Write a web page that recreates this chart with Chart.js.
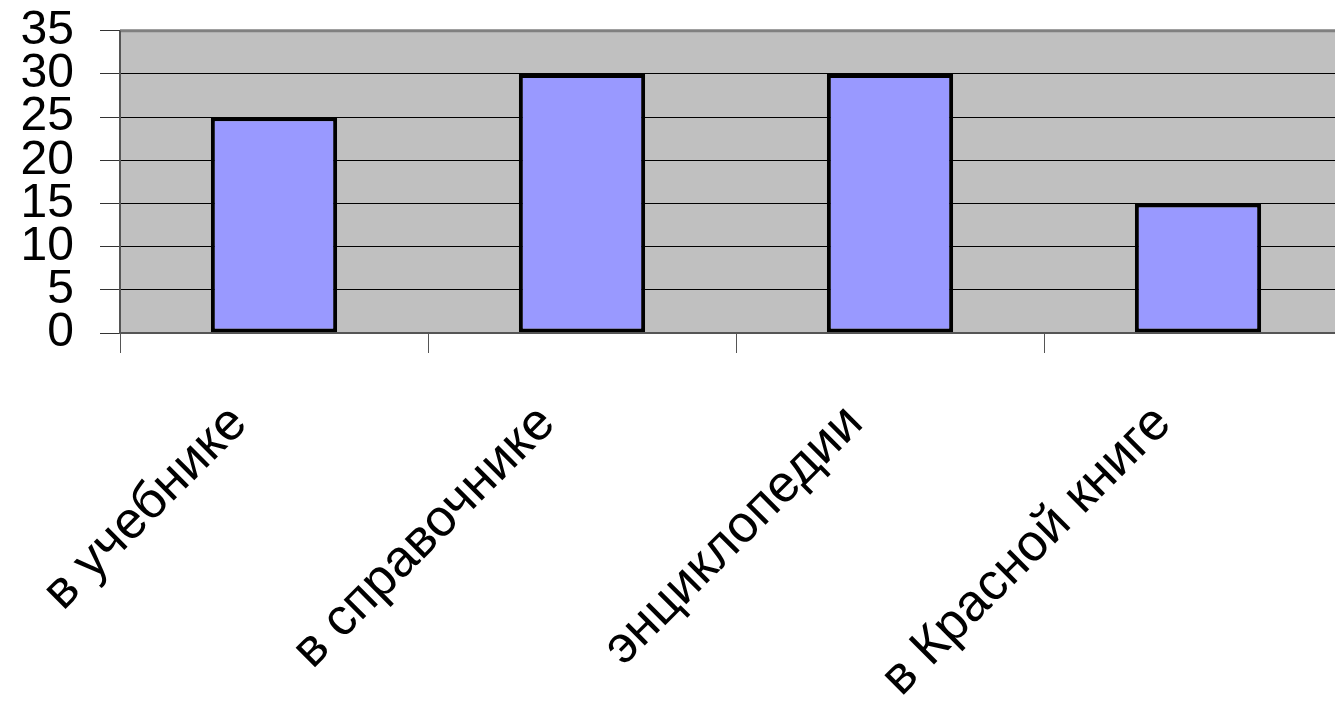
<!DOCTYPE html>
<html>
<head>
<meta charset="utf-8">
<script src="https://cdn.jsdelivr.net/npm/chart.js@4/dist/chart.umd.min.js"></script>
<style>
  html, body { margin: 0; padding: 0; background: #fff; overflow: hidden; }
  #wrap { width: 1352px; height: 719px; }
</style>
</head>
<body>
<div id="wrap"><canvas id="myChart" width="1352" height="719"></canvas></div>
<script>
var categories = ['в учебнике', 'в справочнике', 'энциклопедии', 'в Красной книге'];
var values = [25, 30, 30, 15];
var yMin = 0, yMax = 35, yStep = 5;

// grey plot background + top edge
var plotBg = {
  id: 'plotBg',
  beforeDraw: function(chart) {
    var a = chart.chartArea, c = chart.ctx;
    c.save();
    c.fillStyle = '#c0c0c0';
    c.fillRect(a.left, a.top, a.right - a.left, a.bottom - a.top);
    c.restore();
  },
  afterDatasetsDraw: function(chart) {
    var a = chart.chartArea, c = chart.ctx;
    c.save();
    c.strokeStyle = '#808080';
    c.lineWidth = 3;
    c.beginPath();
    c.moveTo(a.left, a.top);
    c.lineTo(a.right, a.top);
    c.stroke();
    c.strokeStyle = '#555';
    c.lineWidth = 2;
    c.beginPath();
    c.moveTo(a.left, a.top);
    c.lineTo(a.left, a.bottom);
    c.lineTo(a.right, a.bottom);
    c.stroke();
    c.restore();
  }
};

var ctx = document.getElementById('myChart');
var config = {
  type: 'bar',
  data: {
    labels: categories,
    datasets: [{
      data: values,
      backgroundColor: '#9999ff',
      borderColor: '#000000',
      borderWidth: 4,
      borderSkipped: false,
      barPercentage: 0.41,
      categoryPercentage: 1.0
    }]
  },
  options: {
    responsive: false,
    animation: false,
    layout: { padding: { top: 0, left: 0, right: 0, bottom: 0 } },
    plugins: { legend: { display: false }, tooltip: { enabled: false } },
    scales: {
      y: {
        min: yMin, max: yMax,
        ticks: {
          stepSize: yStep,
          autoSkip: false,
          color: '#000',
          padding: 26,
          font: { family: 'Liberation Sans, Arial', size: 48, lineHeight: 0.2 }
        },
        grid: { color: '#000', lineWidth: 1, tickLength: 20, tickColor: '#333' },
        border: { display: false },
        afterFit: function(s) { s.width = 120; }
      },
      x: {
        offset: true,
        ticks: {
          color: '#000',
          autoSkip: false,
          maxRotation: 45, minRotation: 45,
          padding: 40,
          labelOffset: -35,
          font: { family: 'Liberation Sans, Arial', size: 52 }
        },
        grid: { offset: true, drawOnChartArea: false, tickLength: 20, color: '#555' },
        border: { display: false },
        afterFit: function(s) { s.height = 386; }
      }
    }
  },
  plugins: [plotBg]
};
var myChart = new Chart(ctx, config);
</script>
</body>
</html>
